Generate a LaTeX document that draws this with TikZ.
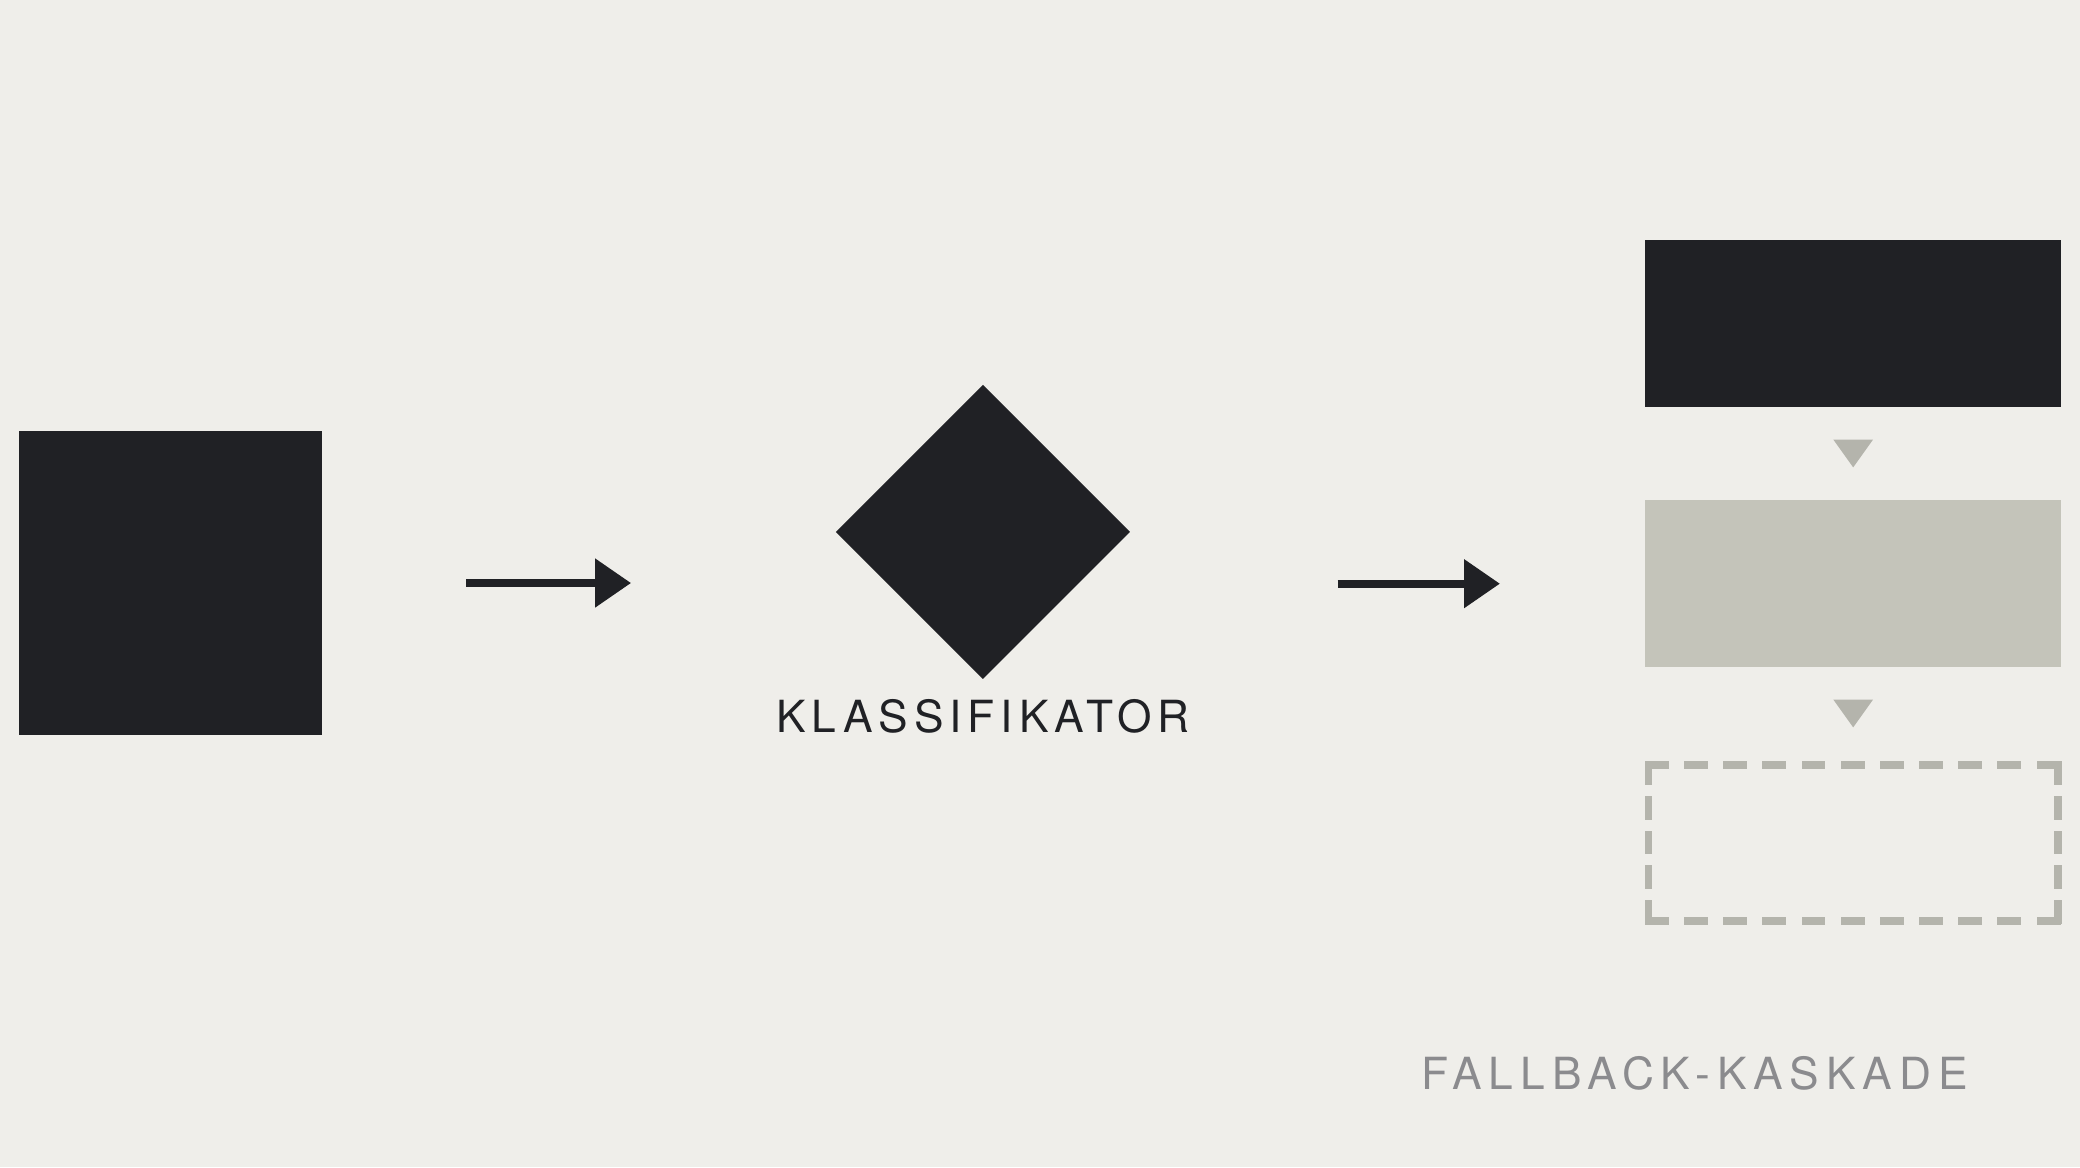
\documentclass[tikz,border=0pt]{standalone}
\usepackage{fontspec}
\setmainfont{TeX Gyre Heros}
\newfontfamily\klassfont[LetterSpace=13.5]{TeX Gyre Heros}
\newfontfamily\kaskfont[LetterSpace=15.6]{TeX Gyre Heros}
\usetikzlibrary{arrows.meta,shapes.geometric}
\definecolor{paper}{HTML}{EFEEEA}
\definecolor{ink}{HTML}{202125}
\definecolor{stone}{HTML}{C4C4BA}
\definecolor{pebble}{HTML}{B4B4AC}
\definecolor{mute}{HTML}{8B8B8E}
\tikzstyle{edge} = [draw,ink,line width=3.3pt,-{Triangle[length=15.4pt,width=20.2pt]}]
\tikzstyle{marker} = [fill=pebble]
\tikzstyle{dashbox} = [draw=pebble,line width=3.1pt,line cap=rect]

\begin{document}
\begin{tikzpicture}[x=0.02cm,y=-0.02cm,
  block/.style={rectangle,inner sep=0pt,minimum width=6.28cm,minimum height=2.52cm},
  label/.style={anchor=base,inner sep=0pt}]

  \fill[paper] (0,0) rectangle (1568,880);
  \useasboundingbox (0,0) rectangle (1568,880);

  \node[rectangle,fill=ink,inner sep=0pt,minimum size=4.58cm] (input) at (128.5,439.5) {};
  \node[diamond,fill=ink,inner sep=0pt,minimum width=4.44cm,minimum height=4.44cm,aspect=1] (klass) at (741,401) {};
  \node[label,ink,font=\klassfont\fontsize{19pt}{19pt}\selectfont] (klasslabel) at (741,552.5) {KLASSIFIKATOR};

  \node[block,fill=ink] (fb1) at (1397,244) {};
  \node[block,fill=stone] (fb2) at (1397,440) {};
  \node[block,minimum width=6.16cm,minimum height=2.34cm] (fb3) at (1397,635.5) {};
  \draw[dashbox,dash pattern=on 7.14pt off 9.67pt] (fb3.north west) -- (fb3.north east);
  \draw[dashbox,dash pattern=on 7.14pt off 9.67pt] (fb3.south west) -- (fb3.south east);
  \draw[dashbox,dash pattern=on 7.14pt off 7.72pt] (fb3.north west) -- (fb3.south west);
  \draw[dashbox,dash pattern=on 7.14pt off 7.72pt] (fb3.north east) -- (fb3.south east);
  \node[label,mute,font=\kaskfont\fontsize{19pt}{19pt}\selectfont] (kasklabel) at (1277.5,821.5) {FALLBACK-KASKADE};

  % connectors
  \path[edge,shorten <=2.16cm,shorten >=3.08cm] (input.east) -- (input.east -| klass.west);
  \path[edge,shorten <=3.12cm,shorten >=2.18cm] (klass.east |- fb2.west) -- (fb2.west);

  % cascade markers
  \fill[marker] (fb1.south) ++(-15,24) -- ++(30,0) -- ++(-15,21) -- cycle;
  \fill[marker] (fb2.south) ++(-15,24) -- ++(30,0) -- ++(-15,21) -- cycle;

\end{tikzpicture}
\end{document}
